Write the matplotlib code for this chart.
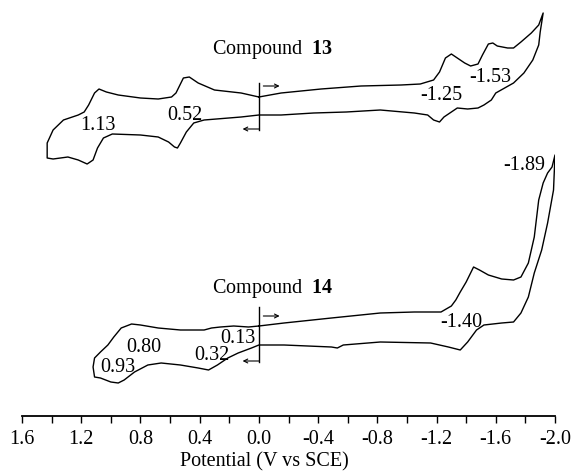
import matplotlib
matplotlib.use("Agg")
import matplotlib.pyplot as plt
from matplotlib.ticker import MultipleLocator, FuncFormatter

plt.rcParams["font.family"] = ["Liberation Serif", "DejaVu Serif"]
plt.rcParams["mathtext.fontset"] = "custom"
plt.rcParams["mathtext.rm"] = "Liberation Serif"
plt.rcParams["mathtext.bf"] = "Liberation Serif:bold"
plt.rcParams["axes.unicode_minus"] = False

# Compound 13 cyclic voltammogram (potential in V vs SCE, current in arbitrary units)
e13 = [0.00, -0.15, -0.42, -0.69, -0.96, -1.09, -1.18, -1.22, -1.26, -1.30, -1.33, -1.39,
       -1.43, -1.48, -1.51, -1.55, -1.58, -1.61, -1.68, -1.72, -1.77, -1.84, -1.89, -1.92,
       -1.90, -1.89, -1.85, -1.79, -1.72, -1.66, -1.60, -1.57, -1.52, -1.48, -1.41, -1.34,
       -1.30, -1.25, -1.22, -1.18, -1.14, -1.05, -0.82, -0.59, -0.37, -0.15, 0.00,
       0.12, 0.37, 0.44, 0.49, 0.53, 0.55, 0.57, 0.61, 0.68, 0.80, 0.99, 1.05, 1.09, 1.12,
       1.16, 1.22, 1.29, 1.39, 1.43,
       1.43, 1.39, 1.32, 1.22, 1.18, 1.15, 1.11, 1.08, 1.03, 0.95, 0.80, 0.68, 0.59, 0.56,
       0.54, 0.51, 0.47, 0.41, 0.30, 0.12, 0.00]
i13 = [9, 13, 17, 20, 21, 22, 26, 34, 48, 52, 49, 43,
       40, 42, 51, 62, 63, 60, 58, 58, 64, 73, 81, 93,
       74, 61, 46, 33, 23, 18, 13, 6, 1, -2, -3, -2,
       -6, -11, -16, -14, -9, -7, -4, -6, -7, -9, -9,
       -11, -14, -17, -26, -37, -42, -41, -36, -31, -29, -28, -32, -42, -54,
       -58, -54, -51, -53, -52,
       -37, -24, -14, -9, -6, 1, 13, 17, 14, 11, 8, 7, 9, 13,
       19, 28, 29, 23, 16, 13, 9]

# Compound 14 cyclic voltammogram
e14 = [0.00, -0.17, -0.49, -0.82, -1.05, -1.23, -1.30, -1.33, -1.36, -1.40, -1.43, -1.45,
       -1.49, -1.55, -1.64, -1.72, -1.77, -1.82, -1.86, -1.89, -1.92, -1.95, -1.98, -2.00,
       -1.99, -1.95, -1.91, -1.86, -1.82, -1.77, -1.72, -1.64, -1.52, -1.47, -1.41, -1.36,
       -1.28, -1.16, -0.82, -0.57, -0.53, -0.49, -0.17, 0.00,
       0.05, 0.14, 0.21, 0.28, 0.34, 0.41, 0.53, 0.66, 0.75, 0.84, 0.91, 0.95, 1.00, 1.07, 1.11,
       1.12, 1.11, 1.07, 1.02, 0.98, 0.93, 0.86, 0.80, 0.68, 0.53, 0.37, 0.32, 0.26, 0.17,
       0.07, 0.00]
i14 = [10, 13, 18, 23, 24, 24, 30, 36, 44, 54, 63, 69,
       66, 61, 57, 56, 59, 73, 99, 136, 153, 163, 169, 181,
       146, 113, 86, 63, 39, 23, 14, 13, 11, 6, -6, -14,
       -11, -7, -6, -9, -12, -11, -9, -9,
       -12, -17, -22, -29, -34, -32, -29, -27, -29, -36, -44, -47, -46, -42, -41,
       -31, -22, -16, -9, -1, 8, 12, 11, 8, 6, 6, 8, 9, 10,
       9, 10]

# peak labels: (text, potential, current)
peaks13 = [("1.13", 1.09, -24), ("0.52", 0.50, -14), ("-1.25", -1.23, 6), ("-1.53", -1.56, 24)]
peaks14 = [("0.80", 0.78, -16), ("0.93", 0.95, -36), ("0.32", 0.32, -24), ("0.13", 0.14, -7),
           ("-1.40", -1.37, 9), ("-1.89", -1.79, 166)]

fs = 14.5
fig = plt.figure(figsize=(5.75, 4.72), dpi=100)
ax = fig.add_axes([22 / 575, 56 / 472, 533 / 575, 416 / 472])

for e, i, off, peaks, name, start_top, start_bot in [
        (e13, i13, 310, peaks13, "13", 23, -24),
        (e14, i14, 80, peaks14, "14", 29, -26)]:
    ax.plot(e, [v + off for v in i], color="black", lw=1.0, solid_joinstyle="round")
    # scan start marker and direction arrows
    ax.plot([0, 0], [start_top + off, start_bot + off], color="black", lw=1.0)
    ax.annotate("", xy=(-0.14, 20 + off), xytext=(-0.03, 20 + off),
                arrowprops=dict(arrowstyle="->", lw=0.8, color="black",
                                shrinkA=0, shrinkB=0, mutation_scale=7))
    ax.annotate("", xy=(0.11, start_bot + 1 + off), xytext=(0.0, start_bot + 1 + off),
                arrowprops=dict(arrowstyle="->", lw=0.8, color="black",
                                shrinkA=0, shrinkB=0, mutation_scale=7))
    for txt, x, y in peaks:
        ax.text(x, y + off, txt, ha="center", va="baseline", fontsize=fs)
    title_y = 52 if name == "13" else 43
    ax.text(-0.09, title_y + off, "Compound  $\\mathbf{" + name + "}$",
            ha="center", va="baseline", fontsize=fs)

ax.set_xlim(1.6, -2.0)
ax.set_ylim(0, 416)
for s in ["top", "left", "right"]:
    ax.spines[s].set_visible(False)
ax.spines["bottom"].set_linewidth(1.3)
ax.set_yticks([])
ax.xaxis.set_major_locator(MultipleLocator(0.4))
ax.xaxis.set_minor_locator(MultipleLocator(0.2))
ax.xaxis.set_major_formatter(FuncFormatter(lambda v, p: f"{v:.1f}".replace("-0.0", "0.0")))
ax.tick_params(axis="x", which="both", direction="out", length=5, width=1.0)
ax.tick_params(axis="x", which="major", labelsize=fs, pad=5)
ax.set_xlabel("Potential (V vs SCE)", fontsize=fs, labelpad=1)
ax.xaxis.set_label_coords(0.455, -0.087)
ax.patch.set_alpha(0)

fig.savefig("out.png", dpi=100)
